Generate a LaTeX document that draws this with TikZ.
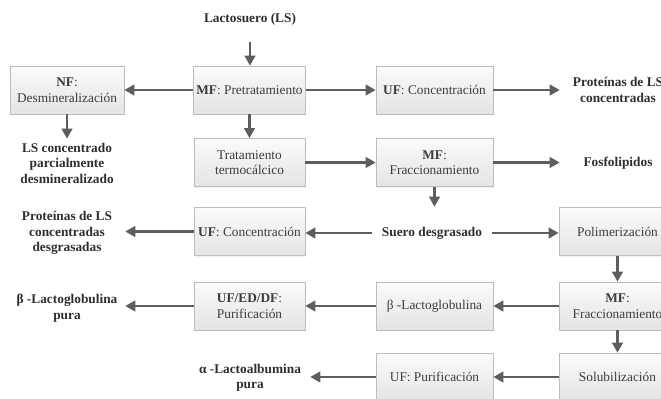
\documentclass[tikz,border=0pt]{standalone}
\usepackage{fontspec}
\setmainfont{Liberation Serif}
\usetikzlibrary{arrows.meta,shadows}
\definecolor{arrowgray}{HTML}{5E5E5E}
\definecolor{boxline}{HTML}{BDBDBD}
\definecolor{boxtop}{HTML}{FBFBFB}
\definecolor{boxbot}{HTML}{E4E4E4}
\definecolor{boxtext}{HTML}{3C3C3C}
\definecolor{lbltext}{HTML}{2E2E2E}
\begin{document}
\begin{tikzpicture}[x=0.75pt,y=-0.75pt,
  font=\fontsize{10}{11.6}\selectfont,
  proc/.style={draw=boxline, line width=0.5pt, top color=boxtop, bottom color=boxbot,
    minimum height=36pt, align=center, inner sep=2pt, text=boxtext,
    drop shadow={opacity=0.12, shadow xshift=0.8pt, shadow yshift=-0.8pt}},
  wA/.style={minimum width=85.5pt},
  wB/.style={minimum width=83.25pt},
  wC/.style={minimum width=87.75pt},
  lbl/.style={font=\fontsize{10}{11.6}\selectfont\bfseries, align=center, text=lbltext,
    inner xsep=0pt, inner ysep=3pt, minimum width=87pt},
  flow/.style={draw=arrowgray, line width=1.6pt, -{Triangle[length=7.5pt,width=8pt]}}]
\useasboundingbox (0,0) rectangle (661,399);
\clip (0,0) rectangle (661,399);

% row 1
\node[lbl, minimum height=34.5pt, inner ysep=0pt] (ls) at (250,19) {Lactosuero (LS)};
\node[proc, wA] (nf)  at (67,90)    {\textbf{NF}:\\Desmineralización};
\node[proc, wB] (pre) at (249.5,90) {\textbf{MF}: Pretratamiento};
\node[proc, wC] (ufc) at (434.5,90) {\textbf{UF}: Concentración};
\node[lbl] (prot) at (618,90) {Proteínas de LS\\concentradas};

% row 2
\node[lbl] (lsc) at (67,163) {LS concentrado\\parcialmente\\desmineralizado};
\node[proc, wB] (ter) at (249.5,162.5) {Tratamiento\\termocálcico};
\node[proc, wC] (mff) at (434.5,162.5) {\textbf{MF}:\\Fraccionamiento};
\node[lbl] (fos) at (618,163) {Fosfolipidos};

% row 3
\node[lbl] (pdes) at (67,233) {Proteínas de LS\\concentradas\\desgrasadas};
\node[proc, wB] (ufc2) at (249.5,231.5) {\textbf{UF}: Concentración};
\node[lbl, minimum width=0pt, inner xsep=7pt, inner ysep=0pt, minimum height=39pt] (sd) at (432,233) {Suero desgrasado};
\node[proc, wC] (pol) at (617.5,231.5) {Polimerización};

% row 4
\node[lbl] (bpura) at (67,308) {β -Lactoglobulina\\pura};
\node[proc, wB] (uedf) at (249.5,306) {\textbf{UF/ED/DF}:\\Purificación};
\node[proc, wC] (blg)  at (434.5,306) {β -Lactoglobulina};
\node[proc, wC] (mff2) at (617.5,306) {\textbf{MF}:\\Fraccionamiento};

% row 5
\node[lbl, minimum width=90pt] (apura) at (250,378) {α -Lactoalbumina\\pura};
\node[proc, wC] (ufp) at (434.5,377) {UF: Purificación};
\node[proc, wC] (sol) at (617.5,377) {Solubilización};

% connectors
\draw[flow] (ls.south) -- (ls.south |- pre.north);
\draw[flow] (pre.west) -- (nf.east);
\draw[flow] (pre.east) -- (ufc.west);
\draw[flow] (ufc.east) -- (ufc.east -| prot.west);
\draw[flow] (pre.south) -- (ter.north);
\draw[flow] (nf.south) -- (nf.south |- lsc.north);
\draw[flow] (ter.east) -- (mff.west);
\draw[flow] (mff.east) -- (mff.east -| fos.west);
\draw[flow] (mff.south) -- (mff.south |- sd.north);
\draw[flow] (sd.west) -- (sd.west -| ufc2.east);
\draw[flow] (sd.east) -- (sd.east -| pol.west);
\draw[flow] (ufc2.west) -- (ufc2.west -| pdes.east);
\draw[flow] (pol.south) -- (mff2.north);
\draw[flow] (mff2.west) -- (blg.east);
\draw[flow] (blg.west) -- (uedf.east);
\draw[flow] (uedf.west) -- (uedf.west -| bpura.east);
\draw[flow] (mff2.south) -- (sol.north);
\draw[flow] (sol.west) -- (ufp.east);
\draw[flow] (ufp.west) -- (ufp.west -| apura.east);
\end{tikzpicture}
\end{document}
